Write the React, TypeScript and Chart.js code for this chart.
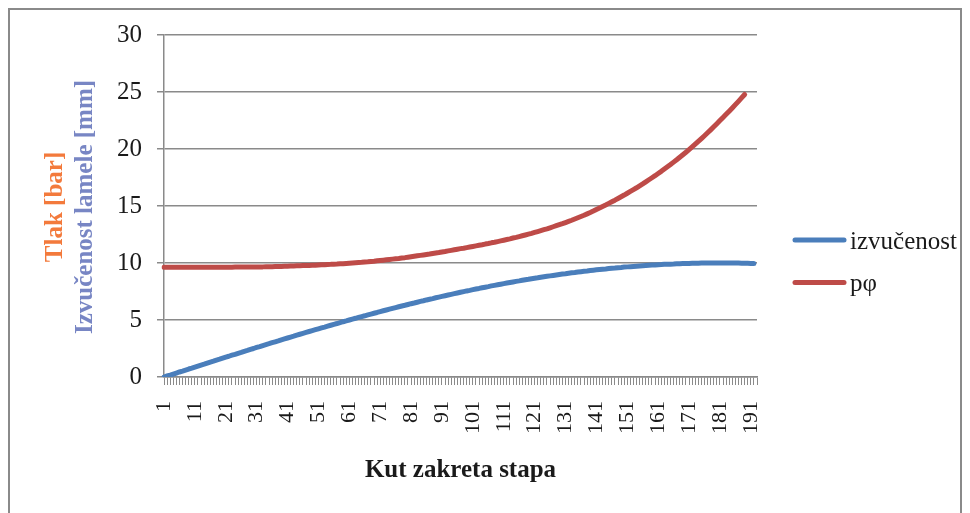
import React, { useEffect, useRef } from 'react';
import { Chart, registerables } from 'chart.js';

Chart.register(...registerables);

const FONT = '"Liberation Serif", "Times New Roman", serif';

// Categories: crank angle steps 1..193
const categories: string[] = Array.from({ length: 193 }, (_, i) => String(i + 1));

const seriesNames = ['izvučenost', 'pφ'];
const yTitleLines = ['Tlak [bar]', 'Izvučenost lamele [mm]'];
const xTitle = 'Kut zakreta stapa';
const yMin = 0;
const yMax = 30;
const yStep = 5;

const izvucenost: number[] = [
  0.00, 0.09, 0.17, 0.26, 0.35, 0.44, 0.52, 0.61, 0.70, 0.78,
  0.87, 0.96, 1.05, 1.13, 1.22, 1.31, 1.39, 1.48, 1.56, 1.65,
  1.74, 1.82, 1.91, 1.99, 2.08, 2.16, 2.25, 2.33, 2.42, 2.50,
  2.59, 2.67, 2.76, 2.84, 2.92, 3.01, 3.09, 3.17, 3.26, 3.34,
  3.42, 3.50, 3.58, 3.67, 3.75, 3.83, 3.91, 3.99, 4.07, 4.15,
  4.23, 4.31, 4.38, 4.46, 4.54, 4.62, 4.69, 4.77, 4.85, 4.92,
  5.00, 5.08, 5.15, 5.23, 5.30, 5.37, 5.45, 5.52, 5.59, 5.66,
  5.74, 5.81, 5.88, 5.95, 6.02, 6.09, 6.16, 6.23, 6.29, 6.36,
  6.43, 6.49, 6.56, 6.63, 6.69, 6.76, 6.82, 6.88, 6.95, 7.01,
  7.07, 7.13, 7.19, 7.25, 7.31, 7.37, 7.43, 7.49, 7.55, 7.60,
  7.66, 7.72, 7.77, 7.83, 7.88, 7.93, 7.99, 8.04, 8.09, 8.14,
  8.19, 8.24, 8.29, 8.34, 8.39, 8.43, 8.48, 8.53, 8.57, 8.62,
  8.66, 8.70, 8.75, 8.79, 8.83, 8.87, 8.91, 8.95, 8.99, 9.03,
  9.06, 9.10, 9.14, 9.17, 9.21, 9.24, 9.27, 9.30, 9.34, 9.37,
  9.40, 9.43, 9.46, 9.48, 9.51, 9.54, 9.56, 9.59, 9.61, 9.64,
  9.66, 9.68, 9.70, 9.72, 9.74, 9.76, 9.78, 9.80, 9.82, 9.83,
  9.85, 9.86, 9.88, 9.89, 9.90, 9.91, 9.93, 9.94, 9.95, 9.95,
  9.96, 9.97, 9.98, 9.98, 9.99, 9.99, 9.99, 10.00, 10.00, 10.00,
  10.00, 10.00, 10.00, 10.00, 9.99, 9.99, 9.99, 9.98, 9.98, 9.97,
  9.96, 9.95,
];

const pPhi: number[] = [
  9.62, 9.62, 9.62, 9.62, 9.62, 9.62, 9.62, 9.62, 9.62, 9.62, 9.62,
  9.62, 9.62, 9.62, 9.62, 9.62, 9.63, 9.63, 9.63, 9.63, 9.63,
  9.63, 9.63, 9.64, 9.64, 9.64, 9.64, 9.65, 9.65, 9.65, 9.65,
  9.66, 9.66, 9.67, 9.68, 9.68, 9.69, 9.70, 9.70, 9.71, 9.72,
  9.73, 9.74, 9.75, 9.76, 9.77, 9.78, 9.79, 9.80, 9.81, 9.83,
  9.84, 9.85, 9.87, 9.88, 9.90, 9.91, 9.93, 9.94, 9.96, 9.98,
  10.00, 10.02, 10.04, 10.06, 10.09, 10.11, 10.14, 10.16, 10.19, 10.22,
  10.25, 10.28, 10.31, 10.34, 10.37, 10.40, 10.44, 10.47, 10.51, 10.55,
  10.59, 10.63, 10.67, 10.71, 10.75, 10.79, 10.84, 10.88, 10.92, 10.97,
  11.01, 11.06, 11.11, 11.16, 11.21, 11.26, 11.30, 11.35, 11.40, 11.45,
  11.50, 11.55, 11.60, 11.66, 11.71, 11.77, 11.82, 11.88, 11.94, 12.00,
  12.06, 12.12, 12.19, 12.25, 12.32, 12.39, 12.46, 12.53, 12.60, 12.68,
  12.76, 12.84, 12.92, 13.00, 13.09, 13.18, 13.27, 13.36, 13.45, 13.55,
  13.65, 13.75, 13.86, 13.97, 14.08, 14.19, 14.31, 14.43, 14.56, 14.70,
  14.83, 14.96, 15.09, 15.23, 15.37, 15.51, 15.66, 15.81, 15.96, 16.12,
  16.28, 16.44, 16.60, 16.77, 16.94, 17.12, 17.30, 17.48, 17.66, 17.85,
  18.04, 18.24, 18.44, 18.64, 18.85, 19.06, 19.28, 19.50, 19.72, 19.95,
  20.18, 20.42, 20.66, 20.91, 21.16, 21.42, 21.68, 21.95, 22.22, 22.50,
  22.77, 23.04, 23.32, 23.60, 23.89, 24.18, 24.48, 24.78,
];

const seriesColors = ['#4A7EBB', '#BE4B48'];
const yTitleColors = ['#F37A3C', '#7886C4'];
const GRID = '#8a8a8a';
const TEXT = '#1a1a1a';
const LINE_W = 5;

const sideLegend = {
  id: 'sideLegend',
  afterDraw(chart: any) {
    const { ctx, chartArea } = chart;
    const x0 = chartArea.right + 38;
    const cy = chart.height / 2;
    chart.data.datasets.forEach((ds: any, i: number) => {
      const y = cy - 21.5 + i * 42.5;
      ctx.save();
      ctx.strokeStyle = ds.borderColor;
      ctx.lineWidth = LINE_W;
      ctx.lineCap = 'round';
      ctx.beginPath();
      ctx.moveTo(x0, y);
      ctx.lineTo(x0 + 49, y);
      ctx.stroke();
      ctx.fillStyle = TEXT;
      ctx.font = `25px ${FONT}`;
      ctx.textAlign = 'left';
      ctx.textBaseline = 'middle';
      ctx.fillText(ds.label, x0 + 55, y + 2);
      ctx.restore();
    });
  },
};

const yTitles = {
  id: 'yTitles',
  afterDraw(chart: any) {
    const { ctx, chartArea } = chart;
    const cy = (chartArea.top + chartArea.bottom) / 2 + 1;
    const xs = [chartArea.left - 108, chartArea.left - 78];
    ctx.save();
    ctx.font = `bold 25px ${FONT}`;
    ctx.textAlign = 'center';
    ctx.textBaseline = 'middle';
    yTitleLines.forEach((t, i) => {
      ctx.save();
      ctx.translate(xs[i], cy);
      ctx.rotate(-Math.PI / 2);
      ctx.fillStyle = yTitleColors[i];
      ctx.fillText(t, 0, 0);
      ctx.restore();
    });
    ctx.restore();
  },
};

export default function App() {
  const ref = useRef<HTMLCanvasElement | null>(null);

  useEffect(() => {
    if (!ref.current) return;
    const chart = new Chart(ref.current, {
      type: 'line',
      data: {
        labels: categories,
        datasets: [
          {
            label: seriesNames[0],
            data: izvucenost,
            borderColor: seriesColors[0],
            backgroundColor: seriesColors[0],
            borderWidth: LINE_W,
            borderCapStyle: 'round',
            borderJoinStyle: 'round',
            pointRadius: 0,
            tension: 0,
            fill: false,
          },
          {
            label: seriesNames[1],
            data: pPhi,
            borderColor: seriesColors[1],
            backgroundColor: seriesColors[1],
            borderWidth: LINE_W,
            borderCapStyle: 'round',
            borderJoinStyle: 'round',
            pointRadius: 0,
            tension: 0,
            fill: false,
          },
        ],
      },
      options: {
        responsive: false,
        animation: false,
        devicePixelRatio: 1,
        layout: { padding: { left: 0, right: 203, top: 25, bottom: 0 } },
        plugins: {
          legend: { display: false },
          tooltip: { enabled: false },
          title: { display: false },
        },
        scales: {
          x: {
            type: 'category',
            offset: false,
            grid: {
              display: true,
              drawOnChartArea: false,
              drawTicks: true,
              tickLength: 8,
              color: GRID,
              lineWidth: 1,
            },
            border: { display: true, color: GRID, width: 1.5 },
            ticks: {
              autoSkip: false,
              minRotation: 90,
              maxRotation: 90,
              padding: 16,
              color: TEXT,
              font: { family: FONT, size: 22 },
              callback: (_v: any, i: number) => (i % 10 === 0 ? categories[i] : ''),
            },
            title: {
              display: true,
              text: xTitle,
              color: TEXT,
              font: { family: FONT, size: 25, weight: 'bold' },
              padding: { top: 0, bottom: 27 },
            },
            afterFit: (s: any) => {
              s.height = 136;
              s.paddingLeft = 0;
              s.paddingRight = 0;
            },
          },
          y: {
            min: yMin,
            max: yMax,
            ticks: {
              stepSize: yStep,
              padding: 15,
              color: TEXT,
              font: { family: FONT, size: 25 },
            },
            grid: { color: GRID, lineWidth: 1.5, tickLength: 7, drawTicks: true },
            border: { display: true, color: GRID, width: 1.5 },
            afterFit: (s: any) => {
              s.width = 154;
              s.paddingTop = 0;
              s.paddingBottom = 0;
            },
          },
        },
      } as any,
      plugins: [sideLegend, yTitles],
    });
    return () => chart.destroy();
  }, []);

  return (
    <div
      style={{
        border: `2px solid ${GRID}`,
        boxSizing: 'border-box',
        width: 954,
        height: 520,
        background: '#fff',
      }}
    >
      <canvas ref={ref} width={950} height={503} style={{ display: 'block', width: 950, height: 503 }} />
    </div>
  );
}
